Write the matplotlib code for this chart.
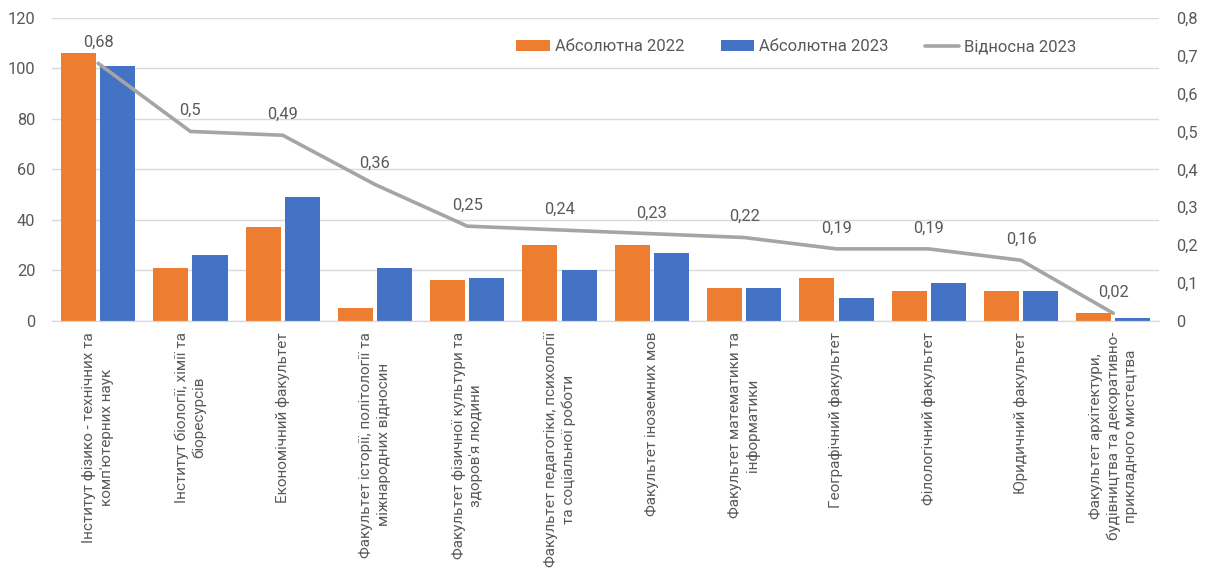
import matplotlib
matplotlib.use("Agg")
import matplotlib.pyplot as plt
import numpy as np
from matplotlib.ticker import FixedLocator, FuncFormatter

plt.rcParams['font.family'] = ['Roboto', 'DejaVu Sans']

categories = [
    "Інститут фізико - технічних та\nкомп'ютерних наук",
    "Інститут біології, хімії та\nбіоресурсів",
    "Економічний факультет",
    "Факультет історії, політології та\nміжнародних відносин",
    "Факультет фізичної культури та\nздоров'я людини",
    "Факультет педагогіки, психології\nта соціальної роботи",
    "Факультет іноземних мов",
    "Факультет математики та\nінформатики",
    "Географічний факультет",
    "Філологічний факультет",
    "Юридичний факультет",
    "Факультет архітектури,\nбудівництва та декоративно-\nприкладного мистецтва",
]
abs_2022 = [106, 21, 37, 5, 16, 30, 30, 13, 17, 12, 12, 3]
abs_2023 = [101, 26, 49, 21, 17, 20, 27, 13, 9, 15, 12, 1]
rel_2023 = [0.68, 0.5, 0.49, 0.36, 0.25, 0.24, 0.23, 0.22, 0.19, 0.19, 0.16, 0.02]

series_labels = ["Абсолютна 2022", "Абсолютна 2023", "Відносна 2023"]

c_orange = "#ED7D31"
c_blue = "#4472C4"
c_grey = "#A5A5A5"
c_text = "#595959"
c_grid = "#D9D9D9"

fs = 11.8

fig = plt.figure(figsize=(12.09, 5.75), dpi=100)
ax = fig.add_axes([0.043, 0.442, 0.916, 0.527])
ax2 = ax.twinx()

x = np.arange(len(categories))
w = 0.38
gap = 0.045
ax.bar(x - (w + gap) / 2, abs_2022, width=w, color=c_orange, label=series_labels[0], zorder=2)
ax.bar(x + (w + gap) / 2, abs_2023, width=w, color=c_blue, label=series_labels[1], zorder=2)

ax.set_xlim(-0.5, len(categories) - 0.5)
ax.set_ylim(0, 120)
ax.yaxis.set_major_locator(FixedLocator([0, 20, 40, 60, 80, 100, 120]))
ax.grid(axis='y', color=c_grid, linewidth=1, zorder=0)
ax.set_axisbelow(True)

line, = ax2.plot(x, rel_2023, color=c_grey, linewidth=2.6, label=series_labels[2],
                 solid_capstyle='round', zorder=3)
ax2.set_ylim(0, 0.8)
ax2.yaxis.set_major_locator(FixedLocator([0, 0.1, 0.2, 0.3, 0.4, 0.5, 0.6, 0.7, 0.8]))
ax2.yaxis.set_major_formatter(FuncFormatter(lambda v, p: ("%g" % round(v, 2)).replace('.', ',')))

for xi, v in zip(x, rel_2023):
    ax2.annotate(("%g" % v).replace('.', ','), (xi, v), xytext=(0, 15),
                 textcoords='offset points', ha='center', va='center',
                 fontsize=fs, color=c_text)

for a in (ax, ax2):
    for s in ['top', 'left', 'right']:
        a.spines[s].set_visible(False)
    a.spines['bottom'].set_color(c_grid)
    a.tick_params(axis='both', length=0, labelsize=fs, labelcolor=c_text)

ax.tick_params(axis='y', pad=12)
ax2.tick_params(axis='y', pad=12)
ax.set_xticks(x)
ax.set_xticklabels(categories, rotation=90, ha='center', va='top', multialignment='center',
                   fontsize=11.0, color=c_text, linespacing=1.3)
ax.tick_params(axis='x', pad=8)

h1, l1 = ax.get_legend_handles_labels()
h2, l2 = ax2.get_legend_handles_labels()
leg = ax.legend(h1 + h2, l1 + l2, loc='center', bbox_to_anchor=(0.672, 0.904), ncol=3,
                frameon=False, fontsize=12.0, handlelength=2.0, handleheight=0.7,
                handletextpad=0.3, columnspacing=2.2)
for t in leg.get_texts():
    t.set_color(c_text)

fig.savefig("out.png", dpi=100)
